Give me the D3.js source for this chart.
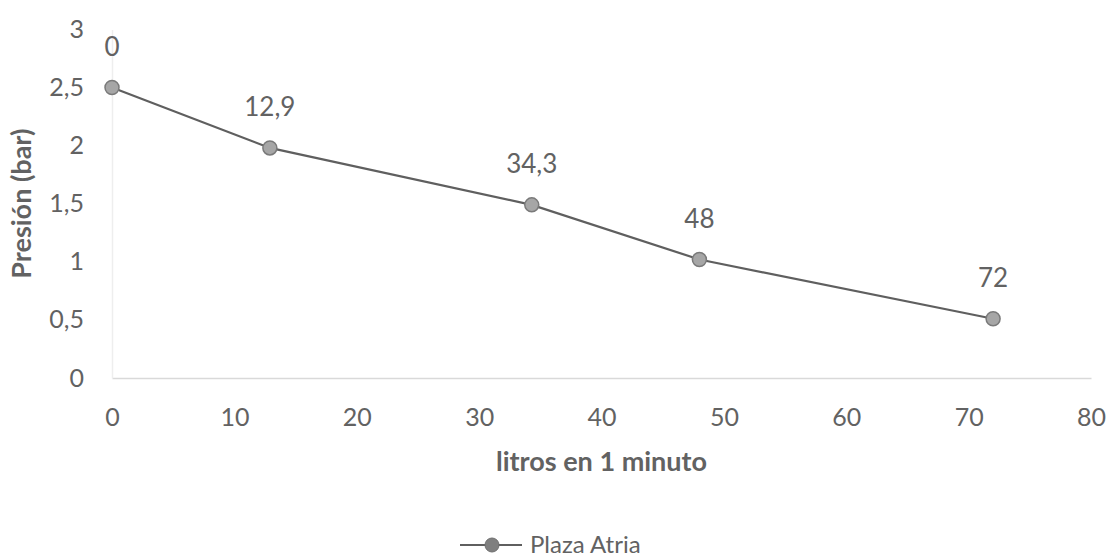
<!DOCTYPE html>
<html><head><meta charset="utf-8">
<script src="https://cdn.jsdelivr.net/npm/d3@7"></script>
<style>
html,body{margin:0;padding:0;background:#fff;}
svg{display:block;font-family:Lato,"Open Sans",sans-serif;}
</style></head>
<body>
<svg id="c" width="1115" height="560"></svg>
<script>
const litros = [0, 12.9, 34.3, 48, 72];
const presion = [2.5, 1.98, 1.49, 1.02, 0.51];
const pointLabels = ["0", "12,9", "34,3", "48", "72"];
const xTicks = [0, 10, 20, 30, 40, 50, 60, 70, 80];
const yTicks = [0, 0.5, 1, 1.5, 2, 2.5, 3];
const seriesName = "Plaza Atria";
const xTitle = "litros en 1 minuto";
const yTitle = "Presión (bar)";

const svg = d3.select("#c");
const x = d3.scaleLinear().domain([0, 80]).range([112, 1091]);
const y = d3.scaleLinear().domain([0, 3]).range([378, 29.4]);
const fmt = v => String(v).replace(".", ",");
const txt = "#626262";

// axes
const xa = svg.append("g").attr("transform", `translate(0,${y(0)})`)
  .call(d3.axisBottom(x).tickValues(xTicks).tickSize(0).tickPadding(30).tickFormat(fmt));
xa.select(".domain").attr("stroke", "#d9d9d9").attr("stroke-width", 1.5);
xa.selectAll("text").attr("fill", txt).attr("font-size", 25).attr("font-family", "Lato");

const ya = svg.append("g").attr("transform", `translate(${x(0)},0)`)
  .call(d3.axisLeft(y).tickValues(yTicks).tickSize(0).tickPadding(28).tickFormat(fmt));
ya.select(".domain").attr("stroke", "#eeeeee").attr("stroke-width", 1.5);
ya.selectAll("text").attr("fill", txt).attr("font-size", 25).attr("font-family", "Lato");

// titles
svg.append("text").attr("x", x(40)).attr("y", 471).attr("text-anchor", "middle")
  .attr("fill", txt).attr("font-weight", "bold").attr("font-size", 27).text(xTitle);
svg.append("text").attr("transform", `translate(31,${y(1.5)}) rotate(-90)`).attr("text-anchor", "middle")
  .attr("fill", txt).attr("font-weight", "bold").attr("font-size", 27).text(yTitle);

// line
const data = litros.map((v, i) => ({x: v, y: presion[i], label: pointLabels[i]}));
svg.append("path").datum(data)
  .attr("d", d3.line().x(d => x(d.x)).y(d => y(d.y)))
  .attr("fill", "none").attr("stroke", "#5f5f5f").attr("stroke-width", 2.2);
svg.selectAll("circle.pt").data(data).enter().append("circle").attr("class", "pt")
  .attr("cx", d => x(d.x)).attr("cy", d => y(d.y)).attr("r", 7)
  .attr("fill", "#a6a6a6").attr("stroke", "#7a7a7a").attr("stroke-width", 1.5);
svg.selectAll("text.lbl").data(data).enter().append("text").attr("class", "lbl")
  .attr("x", d => x(d.x)).attr("y", d => y(d.y) - 41).attr("dy", "0.35em")
  .attr("text-anchor", "middle").attr("fill", txt).attr("font-size", 26).text(d => d.label);

// legend
const lg = svg.append("g");
lg.append("line").attr("x1", 460).attr("x2", 522).attr("y1", 545).attr("y2", 545)
  .attr("stroke", "#5f5f5f").attr("stroke-width", 2.2);
lg.append("circle").attr("cx", 492).attr("cy", 545).attr("r", 7).attr("fill", "#7f7f7f").attr("stroke", "#6f6f6f");
lg.append("text").attr("x", 530).attr("y", 545).attr("dy", "0.35em").attr("fill", txt)
  .attr("font-size", 24).text(seriesName);
</script>
</body></html>
